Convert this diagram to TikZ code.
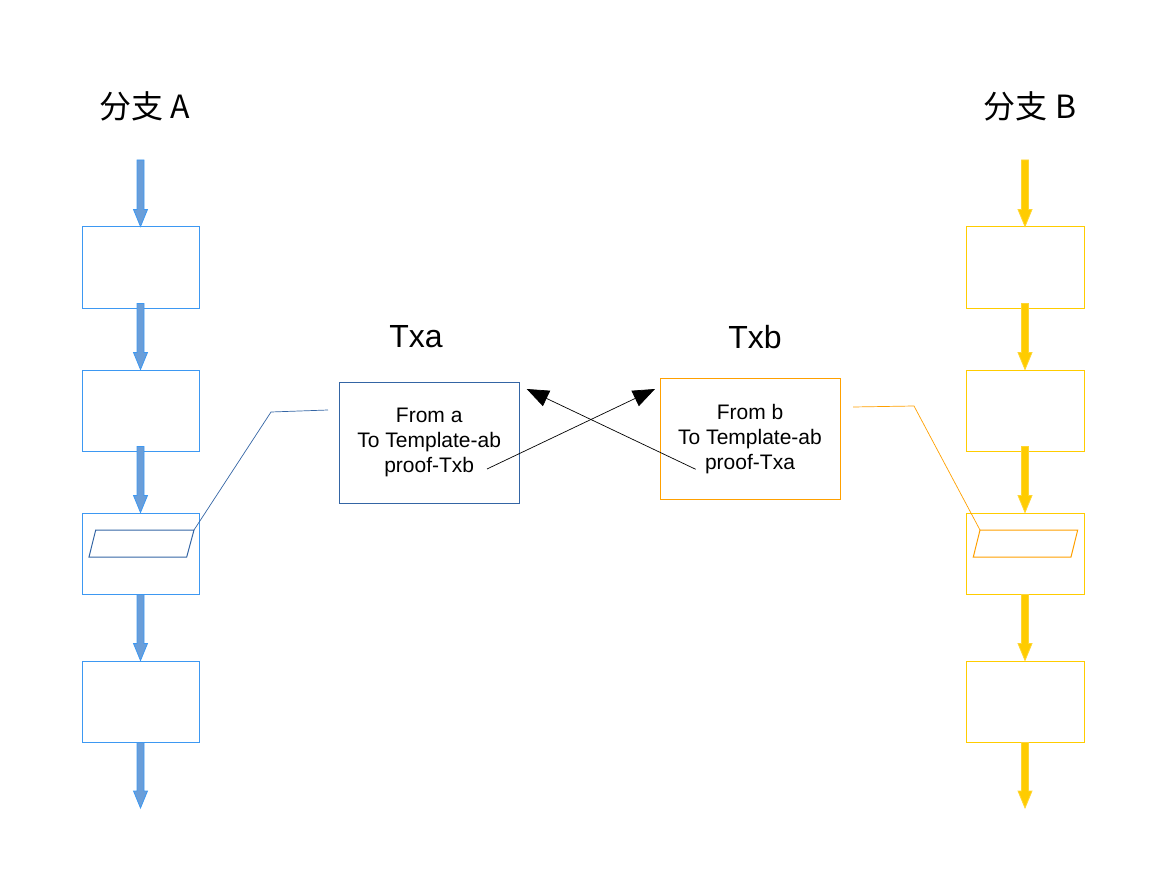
\documentclass[tikz,border=0pt]{standalone}
\usepackage{fontspec}
\setmainfont{Liberation Sans}
\newfontfamily\cjk{Noto Sans CJK SC}
\usetikzlibrary{arrows.meta,calc}
\definecolor{boxblue}{HTML}{3D98F2}
\definecolor{arrblue}{HTML}{6A9ED9}
\definecolor{darkblue}{HTML}{3465A4}
\definecolor{gold}{HTML}{FFCC00}
\definecolor{goldedge}{HTML}{FFD633}
\definecolor{orng}{HTML}{FFA000}
\newcommand\colarr[3]{%
  \path #2 coordinate (s) #3 coordinate (e);
  \filldraw[#1] ($(s)+(-3.5,0)$) -- ($(s)+(3.5,0)$) -- ($(e)+(3.5,-17)$) -- ($(e)+(7,-17)$) -- (e) -- ($(e)+(-7,-17)$) -- ($(e)+(-3.5,-17)$) -- cycle;}
\begin{document}
\begin{tikzpicture}[x=1pt,y=-1pt,
  bluebox/.style={draw=boxblue,line width=1pt,minimum width=117pt,minimum height=81pt,inner sep=0pt},
  goldbox/.style={draw=gold,line width=1pt,minimum width=118pt,minimum height=81pt,inner sep=0pt},
  blarr/.style={fill=arrblue,draw=boxblue,line width=0.8pt},
  goarr/.style={fill=gold,draw=goldedge,line width=0.8pt},
  txbox/.style={line width=1pt,minimum width=180pt,minimum height=121pt,inner sep=0pt,align=center,font=\fontsize{21}{25}\selectfont},
  title/.style={font=\fontsize{32}{38}\selectfont},
  cross/.style={line width=0.7pt,black,-{Triangle[length=22pt,width=17pt]}}]
\useasboundingbox (0,0) rectangle (1163,872);
% left column
\node[bluebox] (a1) at (140.5,267.5) {};
\node[bluebox] (a2) at (140.5,410.5) {};
\node[bluebox] (a3) at (140.5,553.5) {};
\node[bluebox] (a4) at (140.5,701.5) {};
\coordinate (atop) at (140.5,160);
\coordinate (abot) at (140.5,808);
\colarr{blarr}{(atop)}{(a1.north)}
\colarr{blarr}{($(a1.south)+(0,-5)$)}{(a2.north)}
\colarr{blarr}{($(a2.south)+(0,-5)$)}{(a3.north)}
\colarr{blarr}{(a3.south)}{(a4.north)}
\colarr{blarr}{(a4.south)}{(abot)}
% right column
\node[goldbox] (b1) at (1025,267.5) {};
\node[goldbox] (b2) at (1025,410.5) {};
\node[goldbox] (b3) at (1025,553.5) {};
\node[goldbox] (b4) at (1025,701.5) {};
\coordinate (btop) at (1025,160);
\coordinate (bbot) at (1025,808);
\colarr{goarr}{(btop)}{(b1.north)}
\colarr{goarr}{($(b1.south)+(0,-5)$)}{(b2.north)}
\colarr{goarr}{($(b2.south)+(0,-5)$)}{(b3.north)}
\colarr{goarr}{(b3.south)}{(b4.north)}
\colarr{goarr}{(b4.south)}{(bbot)}
% parallelograms
\coordinate (pa1) at (95.7,530); \coordinate (pa2) at (194,530);
\coordinate (pa3) at (186.7,557); \coordinate (pa4) at (89,557);
\draw[darkblue,line width=1pt] (pa1) -- (pa2) -- (pa3) -- (pa4) -- cycle;
\coordinate (pb1) at (980,530); \coordinate (pb2) at (1077.7,530);
\coordinate (pb3) at (1071,557); \coordinate (pb4) at (973.3,557);
\draw[orng,line width=1pt] (pb1) -- (pb2) -- (pb3) -- (pb4) -- cycle;
% titles
\node[title] (ta) at (145,106) {\cjk 分支\ A};
\node[title] (tb) at (1030,106) {\cjk 分支\ B};
\node[title] (txa) at (416,337) {Txa};
\node[title] (txb) at (755,337) {Txb};
% tx boxes
\node[txbox,draw=darkblue] (bxa) at (429.2,442.8) {From a\\To Template-ab\\proof-Txb};
\node[txbox,draw=orng] (bxb) at (750,438.7) {From b\\To Template-ab\\proof-Txa};
% callout connectors
\coordinate (la1) at (271,412); \coordinate (la2) at (328,410);
\draw[darkblue,line width=0.7pt] (pa2) -- (la1) -- (la2);
\coordinate (lb1) at (914,406); \coordinate (lb2) at (853,407);
\draw[orng,line width=0.7pt] (pb1) -- (lb1) -- (lb2);
% crossing arrows
\coordinate (c1s) at (487,469); \coordinate (c1e) at (655,389);
\coordinate (c2s) at (695.7,469.3); \coordinate (c2e) at (526.7,389);
\draw[cross] (c1s) -- (c1e);
\draw[cross] (c2s) -- (c2e);
\end{tikzpicture}
\end{document}
